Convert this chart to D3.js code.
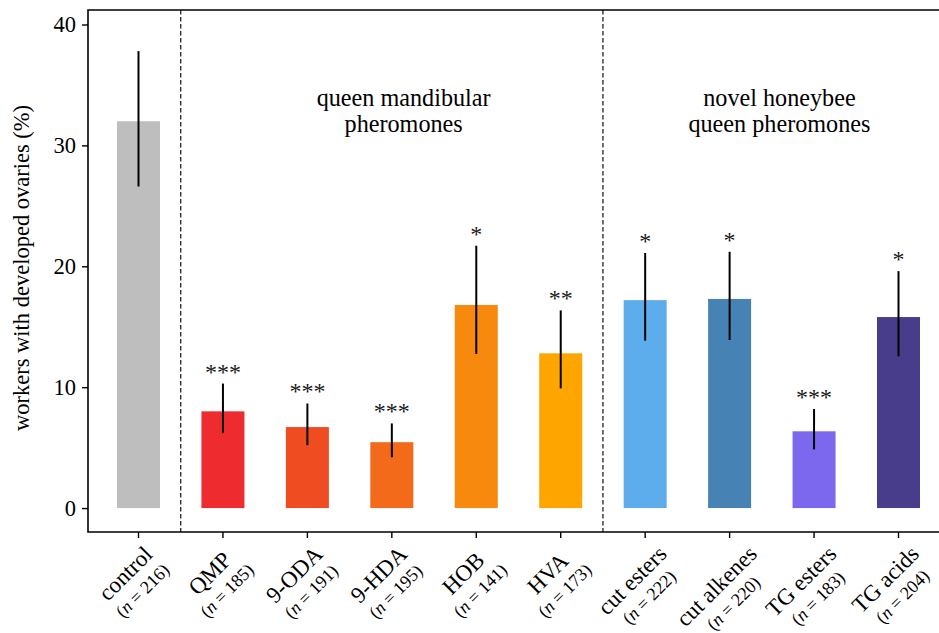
<!DOCTYPE html>
<html>
<head>
<meta charset="utf-8">
<script src="https://cdn.jsdelivr.net/npm/d3@7"></script>
<style>
  html, body { margin: 0; padding: 0; background: #fff; }
  svg { display: block; }
  text { font-family: "Liberation Serif", "Times New Roman", serif; fill: #000; }
</style>
</head>
<body>
<svg id="chart" width="939" height="633"></svg>
<script>
// ---- data ----
const categories = ["control", "QMP", "9-ODA", "9-HDA", "HOB", "HVA", "cut esters", "cut alkenes", "TG esters", "TG acids"];
const sampleSizes = [216, 185, 191, 195, 141, 173, 222, 220, 183, 204];
const values   = [32.0, 8.0, 6.7, 5.45, 16.8, 12.8, 17.2, 17.3, 6.35, 15.8];
const errLow   = [26.6, 6.2, 5.2, 4.2, 12.75, 9.9, 13.85, 13.9, 4.85, 12.55];
const errHigh  = [37.8, 10.3, 8.65, 7.0, 21.7, 16.35, 21.1, 21.2, 8.2, 19.6];
const stars    = ["", "***", "***", "***", "*", "**", "*", "*", "***", "*"];
const colors   = ["#bebebe", "#ee2c2f", "#f04c22", "#f46a1b", "#f7890f", "#fea500", "#5dadec", "#4682b4", "#7b68ee", "#483d8b"];
const yTicks   = [0, 10, 20, 30, 40];
const groupLabels = [["queen mandibular", "pheromones"], ["novel honeybee", "queen pheromones"]];
const groupLabelPos = [3.14, 7.59];     // position in category units
const dividerPos = [0.5, 5.5];          // between categories

(function () {
// ---- layout ----
const svg = d3.select("#chart");
const mLeft = 88, mRight = 949, mTop = 10, mBottom = 532;

const x = d3.scalePoint().domain(d3.range(categories.length)).range([mLeft, mRight]).padding(0.598);
const step = x.step();
const xc = v => x(0) + v * step;
const barW = 43;
const y = d3.scaleLinear().domain([-1.98, 41.2]).range([mBottom, mTop]);

// bars
svg.append("g").selectAll("rect").data(values).join("rect")
  .attr("x", (d, i) => x(i) - barW / 2)
  .attr("width", barW)
  .attr("y", d => y(d))
  .attr("height", d => y(0) - y(d))
  .attr("fill", (d, i) => colors[i]);

// error bars
svg.append("g").selectAll("line").data(values).join("line")
  .attr("x1", (d, i) => x(i)).attr("x2", (d, i) => x(i))
  .attr("y1", (d, i) => y(errLow[i])).attr("y2", (d, i) => y(errHigh[i]))
  .attr("stroke", "#000").attr("stroke-width", 2);

// significance stars
svg.append("g").selectAll("text").data(stars).join("text")
  .attr("x", (d, i) => x(i))
  .attr("y", (d, i) => y(errHigh[i]) - 4)
  .attr("text-anchor", "middle")
  .style("font-size", "24px")
  .style("fill", "#1a1a1a")
  .text(d => d);

// dividers
svg.append("g").selectAll("line").data(dividerPos).join("line")
  .attr("x1", d => xc(d)).attr("x2", d => xc(d))
  .attr("y1", mTop).attr("y2", mBottom)
  .attr("stroke", "#222").attr("stroke-width", 1.3)
  .attr("stroke-dasharray", "4.5,2.5");

// group labels
groupLabels.forEach((lines, gi) => {
  const t = svg.append("text")
    .attr("x", xc(groupLabelPos[gi]))
    .attr("y", 106)
    .attr("text-anchor", "middle")
    .style("font-size", "24.2px");
  lines.forEach((ln, li) => {
    t.append("tspan").attr("x", xc(groupLabelPos[gi])).attr("dy", li === 0 ? 0 : 25.5).text(ln);
  });
});

// frame (left, top, bottom spines; right is outside canvas)
svg.append("path")
  .attr("d", `M${mRight},${mTop}H${mLeft}V${mBottom}H${mRight}`)
  .attr("fill", "none").attr("stroke", "#000").attr("stroke-width", 1.6);

// y axis
const yAxis = d3.axisLeft(y).tickValues(yTicks).tickSize(6).tickPadding(6);
const yg = svg.append("g").attr("transform", `translate(${mLeft},0)`).call(yAxis);
yg.select(".domain").remove();
yg.selectAll(".tick line").attr("stroke", "#000").attr("stroke-width", 1.4);
yg.selectAll(".tick text").style("font-size", "22.5px").style("font-family", "Liberation Serif, serif").attr("fill", "#000");

// y label
svg.append("text")
  .attr("transform", `translate(29,${(mTop + mBottom) / 2 - 3}) rotate(-90)`)
  .attr("text-anchor", "middle")
  .style("font-size", "22.5px")
  .text("workers with developed ovaries (%)");

// x ticks
svg.append("g").selectAll("line").data(categories).join("line")
  .attr("x1", (d, i) => x(i)).attr("x2", (d, i) => x(i))
  .attr("y1", mBottom).attr("y2", mBottom + 6)
  .attr("stroke", "#000").attr("stroke-width", 1.4);

// x tick labels (rotated, two lines, centred)
categories.forEach((c, i) => {
  const outer = svg.append("g");
  const g = outer.append("g").attr("transform", "rotate(-45)");
  g.append("text").attr("x", 0).attr("y", 0).attr("text-anchor", "middle")
    .style("font-size", "23px").text(c);
  const t2 = g.append("text").attr("x", 0).attr("y", 22.5).attr("text-anchor", "middle")
    .style("font-size", "18px");
  t2.append("tspan").text("(");
  t2.append("tspan").style("font-style", "italic").text("n");
  t2.append("tspan").text(" = " + sampleSizes[i] + ")");
  const r = g.node().getBoundingClientRect();
  const cx = r.left + r.width / 2;
  outer.attr("transform", `translate(${x(i) - 5 - cx},${541 - r.top})`);
});
})();
</script>
</body>
</html>
